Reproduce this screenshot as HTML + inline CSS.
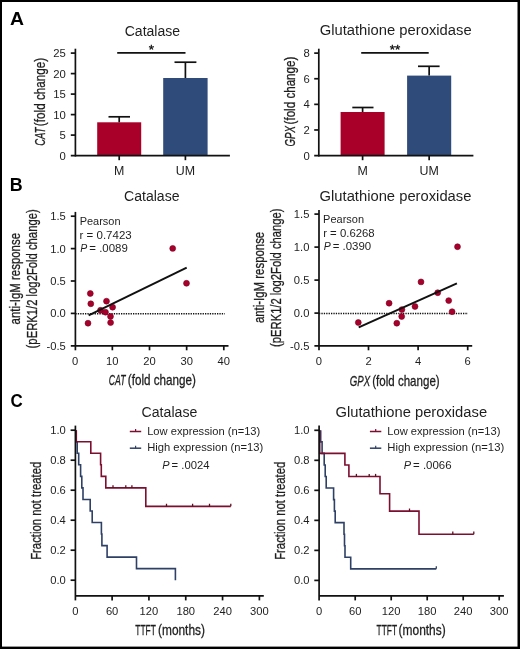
<!DOCTYPE html>
<html><head><meta charset="utf-8"><title>Figure</title>
<style>
html,body{margin:0;padding:0;background:#fff;}
svg{display:block;will-change:transform;}
text{font-family:"Liberation Sans",sans-serif;}
</style></head>
<body>
<svg width="520" height="649" viewBox="0 0 520 649">
<rect x="0" y="0" width="520" height="649" fill="#fff"/>
<text x="10.01" y="24.9" font-size="17.5" font-weight="bold" textLength="14.01" lengthAdjust="spacingAndGlyphs" fill="#000">A</text>
<text x="9.89" y="191" font-size="17.5" font-weight="bold" textLength="12.9" lengthAdjust="spacingAndGlyphs" fill="#000">B</text>
<text x="10.42" y="406.6" font-size="17.5" font-weight="bold" textLength="12.24" lengthAdjust="spacingAndGlyphs" fill="#000">C</text>
<rect x="97.2" y="122.3" width="44" height="33.4" fill="#a80028"/>
<line x1="119.2" y1="122.3" x2="119.2" y2="116.8" stroke="#111" stroke-width="1.7" />
<line x1="108.5" y1="116.8" x2="130" y2="116.8" stroke="#111" stroke-width="1.7" />
<rect x="163.2" y="78" width="44.4" height="77.7" fill="#2e4b7a"/>
<line x1="185.4" y1="78" x2="185.4" y2="62.2" stroke="#111" stroke-width="1.7" />
<line x1="174.5" y1="62.2" x2="196.4" y2="62.2" stroke="#111" stroke-width="1.7" />
<line x1="75.4" y1="48.7" x2="75.4" y2="156.55" stroke="#111" stroke-width="1.7" />
<line x1="70.8" y1="155.7" x2="229.9" y2="155.7" stroke="#111" stroke-width="1.7" />
<text x="65.8" y="159.5" font-size="11.3" text-anchor="end" fill="#1e1e1e" >0</text>
<line x1="70.8" y1="135.1" x2="75.4" y2="135.1" stroke="#111" stroke-width="1.7" />
<text x="65.8" y="139" font-size="11.3" text-anchor="end" fill="#1e1e1e" >5</text>
<line x1="70.8" y1="114.6" x2="75.4" y2="114.6" stroke="#111" stroke-width="1.7" />
<text x="65.8" y="118.5" font-size="11.3" text-anchor="end" fill="#1e1e1e" >10</text>
<line x1="70.8" y1="94.1" x2="75.4" y2="94.1" stroke="#111" stroke-width="1.7" />
<text x="65.8" y="98" font-size="11.3" text-anchor="end" fill="#1e1e1e" >15</text>
<line x1="70.8" y1="73.6" x2="75.4" y2="73.6" stroke="#111" stroke-width="1.7" />
<text x="65.8" y="77.5" font-size="11.3" text-anchor="end" fill="#1e1e1e" >20</text>
<line x1="70.8" y1="53.1" x2="75.4" y2="53.1" stroke="#111" stroke-width="1.7" />
<text x="65.8" y="57" font-size="11.3" text-anchor="end" fill="#1e1e1e" >25</text>
<line x1="119.2" y1="155.7" x2="119.2" y2="160.2" stroke="#111" stroke-width="1.7" />
<text x="119.2" y="174.8" font-size="12.4" text-anchor="middle" fill="#1e1e1e" >M</text>
<line x1="185.4" y1="155.7" x2="185.4" y2="160.2" stroke="#111" stroke-width="1.7" />
<text x="185.4" y="174.8" font-size="12.4" text-anchor="middle" fill="#1e1e1e" >UM</text>
<line x1="117.2" y1="52.9" x2="185.5" y2="52.9" stroke="#111" stroke-width="1.6" />
<text x="151.4" y="54" font-size="13.5" text-anchor="middle" fill="#111" stroke="#111" stroke-width="0.35">*</text>
<text x="124.7" y="35.8" font-size="14" textLength="55.43" lengthAdjust="spacingAndGlyphs" fill="#1e1e1e">Catalase</text>
<text transform="translate(44.9,0) rotate(-90)" x="-145.72" y="0" font-size="15" font-style="italic" stroke="#1e1e1e" stroke-width="0.3" textLength="18.16" lengthAdjust="spacingAndGlyphs" fill="#1e1e1e">CAT</text>
<text transform="translate(44.9,0) rotate(-90)" x="-126.13" y="0" font-size="15" stroke="#1e1e1e" stroke-width="0.3" textLength="68.33" lengthAdjust="spacingAndGlyphs" fill="#1e1e1e">(fold change)</text>
<rect x="340.6" y="112" width="44" height="43.7" fill="#a80028"/>
<line x1="362.6" y1="112" x2="362.6" y2="107.5" stroke="#111" stroke-width="1.7" />
<line x1="352.3" y1="107.5" x2="373.5" y2="107.5" stroke="#111" stroke-width="1.7" />
<rect x="407.1" y="75.6" width="44.1" height="80.1" fill="#2e4b7a"/>
<line x1="429.15" y1="75.6" x2="429.15" y2="66.3" stroke="#111" stroke-width="1.7" />
<line x1="418" y1="66.3" x2="439.6" y2="66.3" stroke="#111" stroke-width="1.7" />
<line x1="318.8" y1="48.7" x2="318.8" y2="156.55" stroke="#111" stroke-width="1.7" />
<line x1="314.2" y1="155.7" x2="473.4" y2="155.7" stroke="#111" stroke-width="1.7" />
<text x="309.8" y="159.5" font-size="11.3" text-anchor="end" fill="#1e1e1e" >0</text>
<line x1="314.2" y1="129.98" x2="318.8" y2="129.98" stroke="#111" stroke-width="1.7" />
<text x="309.8" y="133.88" font-size="11.3" text-anchor="end" fill="#1e1e1e" >2</text>
<line x1="314.2" y1="104.36" x2="318.8" y2="104.36" stroke="#111" stroke-width="1.7" />
<text x="309.8" y="108.26" font-size="11.3" text-anchor="end" fill="#1e1e1e" >4</text>
<line x1="314.2" y1="78.74" x2="318.8" y2="78.74" stroke="#111" stroke-width="1.7" />
<text x="309.8" y="82.64" font-size="11.3" text-anchor="end" fill="#1e1e1e" >6</text>
<line x1="314.2" y1="53.12" x2="318.8" y2="53.12" stroke="#111" stroke-width="1.7" />
<text x="309.8" y="57.02" font-size="11.3" text-anchor="end" fill="#1e1e1e" >8</text>
<line x1="362.6" y1="155.7" x2="362.6" y2="160.2" stroke="#111" stroke-width="1.7" />
<text x="362.6" y="174.8" font-size="12.4" text-anchor="middle" fill="#1e1e1e" >M</text>
<line x1="429.15" y1="155.7" x2="429.15" y2="160.2" stroke="#111" stroke-width="1.7" />
<text x="429.15" y="174.8" font-size="12.4" text-anchor="middle" fill="#1e1e1e" >UM</text>
<line x1="361.2" y1="52.9" x2="428.7" y2="52.9" stroke="#111" stroke-width="1.6" />
<text x="395" y="54" font-size="13.5" text-anchor="middle" fill="#111" stroke="#111" stroke-width="0.35">**</text>
<text x="319.66" y="35.4" font-size="14" textLength="151.97" lengthAdjust="spacingAndGlyphs" fill="#1e1e1e">Glutathione peroxidase</text>
<text transform="translate(295.3,0) rotate(-90)" x="-146.48" y="0" font-size="15" font-style="italic" stroke="#1e1e1e" stroke-width="0.3" textLength="20.39" lengthAdjust="spacingAndGlyphs" fill="#1e1e1e">GPX</text>
<text transform="translate(295.3,0) rotate(-90)" x="-124.48" y="0" font-size="15" stroke="#1e1e1e" stroke-width="0.3" textLength="67.87" lengthAdjust="spacingAndGlyphs" fill="#1e1e1e">(fold change)</text>
<line x1="75.4" y1="313.7" x2="224.8" y2="313.7" stroke="#111" stroke-width="1.5" stroke-dasharray="1.3 1.1"/>
<circle cx="90.3" cy="293.5" r="2.95" fill="#a6002c" stroke="#80001f" stroke-width="0.6"/>
<circle cx="90.8" cy="303.8" r="2.95" fill="#a6002c" stroke="#80001f" stroke-width="0.6"/>
<circle cx="88.0" cy="323.2" r="2.95" fill="#a6002c" stroke="#80001f" stroke-width="0.6"/>
<circle cx="106.5" cy="301.2" r="2.95" fill="#a6002c" stroke="#80001f" stroke-width="0.6"/>
<circle cx="112.6" cy="307.2" r="2.95" fill="#a6002c" stroke="#80001f" stroke-width="0.6"/>
<circle cx="100.5" cy="310.3" r="2.95" fill="#a6002c" stroke="#80001f" stroke-width="0.6"/>
<circle cx="105.5" cy="312.2" r="2.95" fill="#a6002c" stroke="#80001f" stroke-width="0.6"/>
<circle cx="110.5" cy="316.5" r="2.95" fill="#a6002c" stroke="#80001f" stroke-width="0.6"/>
<circle cx="110.6" cy="322.6" r="2.95" fill="#a6002c" stroke="#80001f" stroke-width="0.6"/>
<circle cx="172.7" cy="248.4" r="2.95" fill="#a6002c" stroke="#80001f" stroke-width="0.6"/>
<circle cx="186.5" cy="283.3" r="2.95" fill="#a6002c" stroke="#80001f" stroke-width="0.6"/>
<line x1="88.6" y1="315.4" x2="186.7" y2="267.7" stroke="#111" stroke-width="2.0" />
<line x1="75.4" y1="211.9" x2="75.4" y2="350.3" stroke="#111" stroke-width="1.7" />
<line x1="70.8" y1="345.8" x2="228.5" y2="345.8" stroke="#111" stroke-width="1.7" />
<line x1="70.8" y1="216.2" x2="75.4" y2="216.2" stroke="#111" stroke-width="1.7" />
<text x="65.8" y="220.1" font-size="11.2" text-anchor="end" fill="#1e1e1e" >1.5</text>
<line x1="70.8" y1="248.6" x2="75.4" y2="248.6" stroke="#111" stroke-width="1.7" />
<text x="65.8" y="252.5" font-size="11.2" text-anchor="end" fill="#1e1e1e" >1.0</text>
<line x1="70.8" y1="281" x2="75.4" y2="281" stroke="#111" stroke-width="1.7" />
<text x="65.8" y="284.9" font-size="11.2" text-anchor="end" fill="#1e1e1e" >0.5</text>
<line x1="70.8" y1="313.4" x2="75.4" y2="313.4" stroke="#111" stroke-width="1.7" />
<text x="65.8" y="317.3" font-size="11.2" text-anchor="end" fill="#1e1e1e" >0.0</text>
<text x="65.8" y="349.7" font-size="11.2" text-anchor="end" fill="#1e1e1e" >-0.5</text>
<text x="75.2" y="365" font-size="11.2" text-anchor="middle" fill="#1e1e1e" >0</text>
<line x1="112.35" y1="345.8" x2="112.35" y2="350.3" stroke="#111" stroke-width="1.7" />
<text x="112.35" y="365" font-size="11.2" text-anchor="middle" fill="#1e1e1e" >10</text>
<line x1="149.5" y1="345.8" x2="149.5" y2="350.3" stroke="#111" stroke-width="1.7" />
<text x="149.5" y="365" font-size="11.2" text-anchor="middle" fill="#1e1e1e" >20</text>
<line x1="186.65" y1="345.8" x2="186.65" y2="350.3" stroke="#111" stroke-width="1.7" />
<text x="186.65" y="365" font-size="11.2" text-anchor="middle" fill="#1e1e1e" >30</text>
<line x1="223.8" y1="345.8" x2="223.8" y2="350.3" stroke="#111" stroke-width="1.7" />
<text x="223.8" y="365" font-size="11.2" text-anchor="middle" fill="#1e1e1e" >40</text>
<text x="79.7" y="225.3" font-size="10.5" textLength="40.81" lengthAdjust="spacingAndGlyphs" fill="#1e1e1e">Pearson</text>
<text x="79.55" y="238.8" font-size="10.5" textLength="52.15" lengthAdjust="spacingAndGlyphs" fill="#1e1e1e">r = 0.7423</text>
<text x="80.28" y="251.8" font-size="10.5" font-style="italic" textLength="7" lengthAdjust="spacingAndGlyphs" fill="#1e1e1e">P</text>
<text x="89.27" y="251.8" font-size="10.5" textLength="38.57" lengthAdjust="spacingAndGlyphs" fill="#1e1e1e">= .0089</text>
<text x="124" y="201.3" font-size="14" textLength="55.53" lengthAdjust="spacingAndGlyphs" fill="#1e1e1e">Catalase</text>
<text x="108.72" y="385.2" font-size="15" font-style="italic" stroke="#1e1e1e" stroke-width="0.3" textLength="16.76" lengthAdjust="spacingAndGlyphs" fill="#1e1e1e">CAT</text>
<text x="127.77" y="385.2" font-size="15" stroke="#1e1e1e" stroke-width="0.3" textLength="68.13" lengthAdjust="spacingAndGlyphs" fill="#1e1e1e">(fold change)</text>
<text transform="translate(19.9,0) rotate(-90)" x="-324.39" y="0" font-size="15" stroke="#1e1e1e" stroke-width="0.3" textLength="91.39" lengthAdjust="spacingAndGlyphs" fill="#1e1e1e">anti-IgM response</text>
<text transform="translate(36.9,0) rotate(-90)" x="-348.4" y="0" font-size="15" stroke="#1e1e1e" stroke-width="0.3" textLength="139.09" lengthAdjust="spacingAndGlyphs" fill="#1e1e1e">(pERK1/2 log2Fold change)</text>
<line x1="319.0" y1="313.4" x2="468.0" y2="313.4" stroke="#111" stroke-width="1.5" stroke-dasharray="1.3 1.1"/>
<circle cx="358.3" cy="322.5" r="2.95" fill="#a6002c" stroke="#80001f" stroke-width="0.6"/>
<circle cx="389.1" cy="303.2" r="2.95" fill="#a6002c" stroke="#80001f" stroke-width="0.6"/>
<circle cx="396.8" cy="323.2" r="2.95" fill="#a6002c" stroke="#80001f" stroke-width="0.6"/>
<circle cx="401.7" cy="316.5" r="2.95" fill="#a6002c" stroke="#80001f" stroke-width="0.6"/>
<circle cx="401.9" cy="309.6" r="2.95" fill="#a6002c" stroke="#80001f" stroke-width="0.6"/>
<circle cx="415.0" cy="306.5" r="2.95" fill="#a6002c" stroke="#80001f" stroke-width="0.6"/>
<circle cx="421.0" cy="281.9" r="2.95" fill="#a6002c" stroke="#80001f" stroke-width="0.6"/>
<circle cx="437.7" cy="292.7" r="2.95" fill="#a6002c" stroke="#80001f" stroke-width="0.6"/>
<circle cx="448.7" cy="300.6" r="2.95" fill="#a6002c" stroke="#80001f" stroke-width="0.6"/>
<circle cx="452.1" cy="311.7" r="2.95" fill="#a6002c" stroke="#80001f" stroke-width="0.6"/>
<circle cx="457.5" cy="246.7" r="2.95" fill="#a6002c" stroke="#80001f" stroke-width="0.6"/>
<line x1="358.7" y1="327.3" x2="456.9" y2="283.3" stroke="#111" stroke-width="2.0" />
<line x1="319" y1="210" x2="319" y2="350.3" stroke="#111" stroke-width="1.7" />
<line x1="314.4" y1="345.8" x2="472.2" y2="345.8" stroke="#111" stroke-width="1.7" />
<line x1="314.4" y1="214.1" x2="319" y2="214.1" stroke="#111" stroke-width="1.7" />
<text x="309.4" y="218" font-size="11.2" text-anchor="end" fill="#1e1e1e" >1.5</text>
<line x1="314.4" y1="247.1" x2="319" y2="247.1" stroke="#111" stroke-width="1.7" />
<text x="309.4" y="251" font-size="11.2" text-anchor="end" fill="#1e1e1e" >1.0</text>
<line x1="314.4" y1="280.1" x2="319" y2="280.1" stroke="#111" stroke-width="1.7" />
<text x="309.4" y="284" font-size="11.2" text-anchor="end" fill="#1e1e1e" >0.5</text>
<line x1="314.4" y1="313.1" x2="319" y2="313.1" stroke="#111" stroke-width="1.7" />
<text x="309.4" y="317" font-size="11.2" text-anchor="end" fill="#1e1e1e" >0.0</text>
<text x="309.4" y="350" font-size="11.2" text-anchor="end" fill="#1e1e1e" >-0.5</text>
<text x="318.9" y="365" font-size="11.2" text-anchor="middle" fill="#1e1e1e" >0</text>
<line x1="368.5" y1="345.8" x2="368.5" y2="350.3" stroke="#111" stroke-width="1.7" />
<text x="368.5" y="365" font-size="11.2" text-anchor="middle" fill="#1e1e1e" >2</text>
<line x1="418.1" y1="345.8" x2="418.1" y2="350.3" stroke="#111" stroke-width="1.7" />
<text x="418.1" y="365" font-size="11.2" text-anchor="middle" fill="#1e1e1e" >4</text>
<line x1="467.7" y1="345.8" x2="467.7" y2="350.3" stroke="#111" stroke-width="1.7" />
<text x="467.7" y="365" font-size="11.2" text-anchor="middle" fill="#1e1e1e" >6</text>
<text x="323.09" y="223" font-size="10.5" textLength="40.92" lengthAdjust="spacingAndGlyphs" fill="#1e1e1e">Pearson</text>
<text x="323.16" y="236.5" font-size="10.5" textLength="51.54" lengthAdjust="spacingAndGlyphs" fill="#1e1e1e">r = 0.6268</text>
<text x="323.69" y="249.8" font-size="10.5" font-style="italic" textLength="7" lengthAdjust="spacingAndGlyphs" fill="#1e1e1e">P</text>
<text x="332.67" y="249.8" font-size="10.5" textLength="38.58" lengthAdjust="spacingAndGlyphs" fill="#1e1e1e">= .0390</text>
<text x="319.56" y="200.9" font-size="14" textLength="151.87" lengthAdjust="spacingAndGlyphs" fill="#1e1e1e">Glutathione peroxidase</text>
<text x="349.82" y="385.5" font-size="15" font-style="italic" stroke="#1e1e1e" stroke-width="0.3" textLength="20.39" lengthAdjust="spacingAndGlyphs" fill="#1e1e1e">GPX</text>
<text x="372.18" y="385.5" font-size="15" stroke="#1e1e1e" stroke-width="0.3" textLength="67.51" lengthAdjust="spacingAndGlyphs" fill="#1e1e1e">(fold change)</text>
<text transform="translate(264,0) rotate(-90)" x="-323.08" y="0" font-size="15" stroke="#1e1e1e" stroke-width="0.3" textLength="91.29" lengthAdjust="spacingAndGlyphs" fill="#1e1e1e">anti-IgM response</text>
<text transform="translate(281,0) rotate(-90)" x="-346.9" y="0" font-size="15" stroke="#1e1e1e" stroke-width="0.3" textLength="138.39" lengthAdjust="spacingAndGlyphs" fill="#1e1e1e">(pERK1/2 log2Fold change)</text>
<path d="M76.00,430.20 L76.00,430.20 L76.00,441.74 L77.20,441.74 L77.20,453.28 L78.70,453.28 L78.70,464.82 L80.60,464.82 L80.60,476.35 L81.80,476.35 L81.80,487.89 L83.00,487.89 L83.00,499.43 L90.20,499.43 L90.20,510.97 L92.20,510.97 L92.20,522.51 L101.40,522.51 L101.40,534.05 L101.90,534.05 L101.90,545.58 L107.10,545.58 L107.10,557.12 L136.50,557.12 L136.50,568.66 L175.40,568.66 L175.40,580.20" fill="none" stroke="#2f4066" stroke-width="1.6"/>
<path d="M76.30,430.20 L76.30,441.74 L90.80,441.74 L90.80,453.28 L100.60,453.28 L100.60,464.82 L101.30,464.82 L101.30,476.35 L105.80,476.35 L105.80,487.89 L145.80,487.89 L145.80,506.36 L230.80,506.36" fill="none" stroke="#7c0e30" stroke-width="1.6"/>
<line x1="113" y1="487.89" x2="113" y2="485.29" stroke="#5a1020" stroke-width="1.3" />
<line x1="125.8" y1="487.89" x2="125.8" y2="485.29" stroke="#5a1020" stroke-width="1.3" />
<line x1="131.9" y1="487.89" x2="131.9" y2="485.29" stroke="#5a1020" stroke-width="1.3" />
<line x1="166.5" y1="506.36" x2="166.5" y2="503.75" stroke="#5a1020" stroke-width="1.3" />
<line x1="192.6" y1="506.36" x2="192.6" y2="503.75" stroke="#5a1020" stroke-width="1.3" />
<line x1="209.5" y1="506.36" x2="209.5" y2="503.75" stroke="#5a1020" stroke-width="1.3" />
<line x1="230.8" y1="506.36" x2="230.8" y2="503.75" stroke="#5a1020" stroke-width="1.3" />
<line x1="75.4" y1="425.6" x2="75.4" y2="600.4" stroke="#111" stroke-width="1.7" />
<line x1="75.4" y1="595.9" x2="263.8" y2="595.9" stroke="#111" stroke-width="1.7" />
<line x1="70.6" y1="430.2" x2="75.4" y2="430.2" stroke="#111" stroke-width="1.7" />
<text x="65.8" y="434.1" font-size="11.2" text-anchor="end" fill="#1e1e1e" >1.0</text>
<line x1="70.6" y1="460.2" x2="75.4" y2="460.2" stroke="#111" stroke-width="1.7" />
<text x="65.8" y="464.1" font-size="11.2" text-anchor="end" fill="#1e1e1e" >0.8</text>
<line x1="70.6" y1="490.2" x2="75.4" y2="490.2" stroke="#111" stroke-width="1.7" />
<text x="65.8" y="494.1" font-size="11.2" text-anchor="end" fill="#1e1e1e" >0.6</text>
<line x1="70.6" y1="520.2" x2="75.4" y2="520.2" stroke="#111" stroke-width="1.7" />
<text x="65.8" y="524.1" font-size="11.2" text-anchor="end" fill="#1e1e1e" >0.4</text>
<line x1="70.6" y1="550.2" x2="75.4" y2="550.2" stroke="#111" stroke-width="1.7" />
<text x="65.8" y="554.1" font-size="11.2" text-anchor="end" fill="#1e1e1e" >0.2</text>
<line x1="70.6" y1="580.2" x2="75.4" y2="580.2" stroke="#111" stroke-width="1.7" />
<text x="65.8" y="584.1" font-size="11.2" text-anchor="end" fill="#1e1e1e" >0.0</text>
<text x="75.3" y="615" font-size="11.2" text-anchor="middle" fill="#1e1e1e" >0</text>
<line x1="112.12" y1="595.9" x2="112.12" y2="600.4" stroke="#111" stroke-width="1.7" />
<text x="112.12" y="615" font-size="11.2" text-anchor="middle" fill="#1e1e1e" >60</text>
<line x1="148.93" y1="595.9" x2="148.93" y2="600.4" stroke="#111" stroke-width="1.7" />
<text x="148.93" y="615" font-size="11.2" text-anchor="middle" fill="#1e1e1e" >120</text>
<line x1="185.75" y1="595.9" x2="185.75" y2="600.4" stroke="#111" stroke-width="1.7" />
<text x="185.75" y="615" font-size="11.2" text-anchor="middle" fill="#1e1e1e" >180</text>
<line x1="222.56" y1="595.9" x2="222.56" y2="600.4" stroke="#111" stroke-width="1.7" />
<text x="222.56" y="615" font-size="11.2" text-anchor="middle" fill="#1e1e1e" >240</text>
<line x1="259.38" y1="595.9" x2="259.38" y2="600.4" stroke="#111" stroke-width="1.7" />
<text x="259.38" y="615" font-size="11.2" text-anchor="middle" fill="#1e1e1e" >300</text>
<text x="141.59" y="417.1" font-size="14" textLength="55.73" lengthAdjust="spacingAndGlyphs" fill="#1e1e1e">Catalase</text>
<line x1="129.8" y1="431.5" x2="141.2" y2="431.5" stroke="#7c0e30" stroke-width="1.5" />
<line x1="135.6" y1="431.5" x2="135.6" y2="429" stroke="#7c0e30" stroke-width="1.2" />
<text x="147.18" y="434.9" font-size="11" textLength="113.09" lengthAdjust="spacingAndGlyphs" fill="#1e1e1e">Low expression (n=13)</text>
<line x1="129.8" y1="448.2" x2="141.2" y2="448.2" stroke="#2f4066" stroke-width="1.5" />
<line x1="135.6" y1="448.2" x2="135.6" y2="445.7" stroke="#2f4066" stroke-width="1.2" />
<text x="147.18" y="451.4" font-size="11" textLength="115.99" lengthAdjust="spacingAndGlyphs" fill="#1e1e1e">High expression (n=13)</text>
<text x="162.17" y="469" font-size="11" font-style="italic" textLength="7.34" lengthAdjust="spacingAndGlyphs" fill="#1e1e1e">P</text>
<text x="171.59" y="469" font-size="11" textLength="37.94" lengthAdjust="spacingAndGlyphs" fill="#1e1e1e">= .0024</text>
<text x="135.31" y="635.2" font-size="15" stroke="#1e1e1e" stroke-width="0.3" textLength="20.59" lengthAdjust="spacingAndGlyphs" fill="#1e1e1e">TTFT</text>
<text x="158.06" y="635.2" font-size="15" stroke="#1e1e1e" stroke-width="0.3" textLength="46.86" lengthAdjust="spacingAndGlyphs" fill="#1e1e1e">(months)</text>
<text transform="translate(41,0) rotate(-90)" x="-559.83" y="0" font-size="15" stroke="#1e1e1e" stroke-width="0.3" textLength="98.16" lengthAdjust="spacingAndGlyphs" fill="#1e1e1e">Fraction not treated</text>
<path d="M320.70,430.30 L320.70,430.30 L320.70,441.85 L322.10,441.85 L322.10,453.39 L324.20,453.39 L324.20,464.94 L325.20,464.94 L325.20,476.48 L326.20,476.48 L326.20,488.03 L333.60,488.03 L333.60,499.58 L334.40,499.58 L334.40,511.12 L335.20,511.12 L335.20,522.67 L344.00,522.67 L344.00,534.22 L344.50,534.22 L344.50,545.76 L345.00,545.76 L345.00,557.31 L350.70,557.31 L350.70,568.85 L436.30,568.85" fill="none" stroke="#2f4066" stroke-width="1.6"/>
<line x1="436.3" y1="568.85" x2="436.3" y2="566.25" stroke="#2f4066" stroke-width="1.3" />
<path d="M319.70,430.30 L319.70,453.39 L344.90,453.39 L344.90,464.94 L348.90,464.94 L348.90,476.48 L380.00,476.48 L380.00,493.81 L389.60,493.81 L389.60,511.13 L419.00,511.13 L419.00,534.21 L473.80,534.21" fill="none" stroke="#7c0e30" stroke-width="1.6"/>
<line x1="356.4" y1="476.48" x2="356.4" y2="473.88" stroke="#5a1020" stroke-width="1.3" />
<line x1="369.2" y1="476.48" x2="369.2" y2="473.88" stroke="#5a1020" stroke-width="1.3" />
<line x1="375.6" y1="476.48" x2="375.6" y2="473.88" stroke="#5a1020" stroke-width="1.3" />
<line x1="409.5" y1="511.13" x2="409.5" y2="508.53" stroke="#5a1020" stroke-width="1.3" />
<line x1="452.8" y1="534.21" x2="452.8" y2="531.61" stroke="#5a1020" stroke-width="1.3" />
<line x1="473.8" y1="534.21" x2="473.8" y2="531.61" stroke="#5a1020" stroke-width="1.3" />
<line x1="319.1" y1="425.6" x2="319.1" y2="600.4" stroke="#111" stroke-width="1.7" />
<line x1="319.1" y1="595.9" x2="503.9" y2="595.9" stroke="#111" stroke-width="1.7" />
<line x1="314.3" y1="430.3" x2="319.1" y2="430.3" stroke="#111" stroke-width="1.7" />
<text x="309.5" y="434.2" font-size="11.2" text-anchor="end" fill="#1e1e1e" >1.0</text>
<line x1="314.3" y1="460.32" x2="319.1" y2="460.32" stroke="#111" stroke-width="1.7" />
<text x="309.5" y="464.22" font-size="11.2" text-anchor="end" fill="#1e1e1e" >0.8</text>
<line x1="314.3" y1="490.34" x2="319.1" y2="490.34" stroke="#111" stroke-width="1.7" />
<text x="309.5" y="494.24" font-size="11.2" text-anchor="end" fill="#1e1e1e" >0.6</text>
<line x1="314.3" y1="520.36" x2="319.1" y2="520.36" stroke="#111" stroke-width="1.7" />
<text x="309.5" y="524.26" font-size="11.2" text-anchor="end" fill="#1e1e1e" >0.4</text>
<line x1="314.3" y1="550.38" x2="319.1" y2="550.38" stroke="#111" stroke-width="1.7" />
<text x="309.5" y="554.28" font-size="11.2" text-anchor="end" fill="#1e1e1e" >0.2</text>
<line x1="314.3" y1="580.4" x2="319.1" y2="580.4" stroke="#111" stroke-width="1.7" />
<text x="309.5" y="584.3" font-size="11.2" text-anchor="end" fill="#1e1e1e" >0.0</text>
<text x="319.2" y="615" font-size="11.2" text-anchor="middle" fill="#1e1e1e" >0</text>
<line x1="355.2" y1="595.9" x2="355.2" y2="600.4" stroke="#111" stroke-width="1.7" />
<text x="355.2" y="615" font-size="11.2" text-anchor="middle" fill="#1e1e1e" >60</text>
<line x1="391.2" y1="595.9" x2="391.2" y2="600.4" stroke="#111" stroke-width="1.7" />
<text x="391.2" y="615" font-size="11.2" text-anchor="middle" fill="#1e1e1e" >120</text>
<line x1="427.2" y1="595.9" x2="427.2" y2="600.4" stroke="#111" stroke-width="1.7" />
<text x="427.2" y="615" font-size="11.2" text-anchor="middle" fill="#1e1e1e" >180</text>
<line x1="463.2" y1="595.9" x2="463.2" y2="600.4" stroke="#111" stroke-width="1.7" />
<text x="463.2" y="615" font-size="11.2" text-anchor="middle" fill="#1e1e1e" >240</text>
<line x1="499.2" y1="595.9" x2="499.2" y2="600.4" stroke="#111" stroke-width="1.7" />
<text x="499.2" y="615" font-size="11.2" text-anchor="middle" fill="#1e1e1e" >300</text>
<text x="335.46" y="416.6" font-size="14" textLength="151.66" lengthAdjust="spacingAndGlyphs" fill="#1e1e1e">Glutathione peroxidase</text>
<line x1="369.9" y1="431.5" x2="381.3" y2="431.5" stroke="#7c0e30" stroke-width="1.5" />
<line x1="375.7" y1="431.5" x2="375.7" y2="429" stroke="#7c0e30" stroke-width="1.2" />
<text x="387.28" y="434.9" font-size="11" textLength="113.09" lengthAdjust="spacingAndGlyphs" fill="#1e1e1e">Low expression (n=13)</text>
<line x1="369.9" y1="448.2" x2="381.3" y2="448.2" stroke="#2f4066" stroke-width="1.5" />
<line x1="375.7" y1="448.2" x2="375.7" y2="445.7" stroke="#2f4066" stroke-width="1.2" />
<text x="387.27" y="451.4" font-size="11" textLength="116.9" lengthAdjust="spacingAndGlyphs" fill="#1e1e1e">High expression (n=13)</text>
<text x="403.67" y="469" font-size="11" font-style="italic" textLength="7.34" lengthAdjust="spacingAndGlyphs" fill="#1e1e1e">P</text>
<text x="413.09" y="469" font-size="11" textLength="38.52" lengthAdjust="spacingAndGlyphs" fill="#1e1e1e">= .0066</text>
<text x="376.51" y="634.8" font-size="15" stroke="#1e1e1e" stroke-width="0.3" textLength="20.59" lengthAdjust="spacingAndGlyphs" fill="#1e1e1e">TTFT</text>
<text x="398.55" y="634.8" font-size="15" stroke="#1e1e1e" stroke-width="0.3" textLength="47.17" lengthAdjust="spacingAndGlyphs" fill="#1e1e1e">(months)</text>
<text transform="translate(285,0) rotate(-90)" x="-559.83" y="0" font-size="15" stroke="#1e1e1e" stroke-width="0.3" textLength="98.16" lengthAdjust="spacingAndGlyphs" fill="#1e1e1e">Fraction not treated</text>
<rect x="0" y="0" width="520" height="2" fill="#000"/>
<rect x="0" y="0" width="2" height="649" fill="#000"/>
<rect x="517.5" y="0" width="2.5" height="649" fill="#000"/>
<rect x="0" y="646.6" width="520" height="2.4" fill="#000"/>
</svg>
</body></html>
